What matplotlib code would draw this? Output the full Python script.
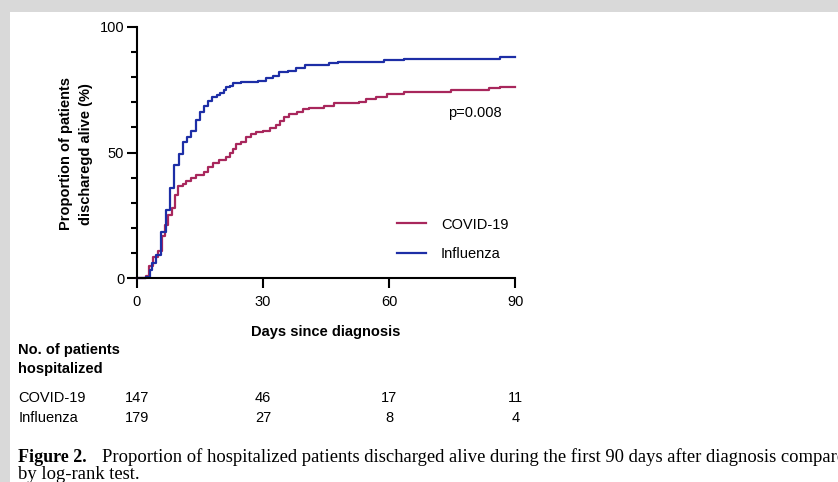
import matplotlib.pyplot as plt
from matplotlib.patches import Rectangle
from matplotlib.transforms import blended_transform_factory

# Kaplan-Meier style step data (days, % discharged alive)
covid_days = [0, 2.1, 2.9, 3.9, 5.1, 6.1, 6.7, 7.5, 8.3, 9.1, 9.9, 11.0, 11.8, 13.0, 14.2,
              15.9, 17.0, 18.2, 19.5, 21.3, 22.1, 22.9, 23.7, 24.9, 26.0, 27.2, 28.4, 30.0,
              31.6, 33.0, 34.0, 35.1, 36.3, 38.0, 39.5, 41.0, 44.6, 47.0, 52.9, 54.5, 56.8,
              59.6, 63.6, 74.6, 83.7, 86.4, 90]
covid_pct = [0, 1, 5, 8.5, 11, 17, 21, 25, 28, 33, 36.5, 37.5, 38.5, 40, 41,
             42.2, 44.4, 46, 47, 48.3, 50, 51.5, 53.4, 54.3, 56.3, 57.4, 58, 58.6,
             59.9, 61, 62.6, 64.2, 65.2, 66.2, 67.2, 67.8, 68.5, 69.6, 70.2, 71.1, 72.2,
             73.3, 74.0, 74.8, 75.5, 76.2, 76.2]

flu_days = [0, 2.1, 3.2, 3.7, 4.5, 5.8, 6.9, 7.9, 8.8, 10.1, 10.9, 12.0, 13.0, 14.0, 15.0,
            15.9, 17.0, 18.0, 19.0, 19.8, 20.7, 21.3, 22.1, 22.9, 24.9, 28.8, 30.8, 32.4,
            33.9, 35.9, 37.9, 39.9, 45.8, 47.8, 58.8, 63.6, 86.4, 90]
flu_pct = [0, 0.7, 3.3, 6, 9.3, 18.5, 27, 35.8, 45, 49.5, 54, 56, 58.5, 63, 66,
           68.5, 70.5, 72, 72.9, 73.8, 74.8, 75.9, 76.4, 77.5, 78, 78.5, 79.5, 80.4,
           81.9, 82.5, 83.5, 84.8, 85.4, 86.1, 86.8, 87.3, 88.1, 88.1]

# numbers at risk
risk_days = [0, 30, 60, 90]
covid_risk = [147, 46, 17, 11]
flu_risk = [179, 27, 8, 4]

covid_color = '#a8275c'
flu_color = '#1d2ea6'

plt.rcParams['font.family'] = ['Liberation Sans', 'DejaVu Sans']

W, H = 838, 482
fig = plt.figure(figsize=(W / 100, H / 100), dpi=100)
fig.patch.set_facecolor('#d9d9d9')
fig.add_artist(Rectangle((10 / W, 0), 1, 1 - 12 / H, transform=fig.transFigure,
                         facecolor='white', edgecolor='none', zorder=0))

ax = fig.add_axes([136.7 / W, 1 - 278.3 / H, 378.6 / W, 251.6 / H])
ax.patch.set_alpha(0)

ax.plot(covid_days, covid_pct, drawstyle='steps-post', color=covid_color, lw=1.6,
        label='COVID-19', clip_on=False)
ax.plot(flu_days, flu_pct, drawstyle='steps-post', color=flu_color, lw=1.6,
        label='Influenza', clip_on=False)

ax.set_xlim(0, 90)
ax.set_ylim(0, 100)
ax.set_xticks(risk_days)
ax.set_yticks([0, 50, 100])
ax.set_yticks(range(0, 101, 10), minor=True)
for s in ['top', 'right']:
    ax.spines[s].set_visible(False)
for s in ['left', 'bottom']:
    ax.spines[s].set_linewidth(1.5)
ax.tick_params(axis='both', which='major', length=7.5, width=1.5, labelsize=10.5)
ax.tick_params(axis='x', pad=4.5)
ax.tick_params(axis='y', pad=1.5)
ax.tick_params(axis='y', which='minor', length=4.5, width=1.5)

ax.set_xlabel('Days since diagnosis', fontsize=10.5, fontweight='bold', va='center')
ax.xaxis.set_label_coords(0.5, (278.3 - 331.7) / 251.6)
ax.set_ylabel('Proportion of patients\ndischaregd alive (%)', fontsize=10.5,
              fontweight='bold', va='center', linespacing=1.5)
ax.yaxis.set_label_coords((76 - 136.7) / 378.6, (278.3 - 154) / 251.6)

ax.text(74, 65.8, 'p=0.008', fontsize=10.5, va='center', ha='left')

ax.legend(loc='center left', bbox_to_anchor=((397 - 136.7) / 378.6, (278.3 - 239.2) / 251.6),
          frameon=False, fontsize=10.5, handlelength=2.0, handletextpad=1.0,
          labelspacing=1.05, borderpad=0, borderaxespad=0)

# number at risk table
tr = blended_transform_factory(ax.transData, fig.transFigure)
fig.text(18.3 / W, 1 - 350 / H, 'No. of patients', fontsize=10.5, fontweight='bold', va='center')
fig.text(18.3 / W, 1 - 369 / H, 'hospitalized', fontsize=10.5, fontweight='bold', va='center')
fig.text(18.3 / W, 1 - 398.3 / H, 'COVID-19', fontsize=10.5, va='center')
fig.text(18.3 / W, 1 - 417.5 / H, 'Influenza', fontsize=10.5, va='center')
for d, c, f in zip(risk_days, covid_risk, flu_risk):
    ax.text(d, 1 - 398.3 / H, str(c), transform=tr, fontsize=10.5, ha='center', va='center')
    ax.text(d, 1 - 417.5 / H, str(f), transform=tr, fontsize=10.5, ha='center', va='center')

# caption (runs off the right edge, as in the source page)
serif = ['Liberation Serif', 'DejaVu Serif']
fig.text(18.3 / W, 1 - 462 / H, 'Figure 2.', family=serif, fontsize=13, fontweight='bold',
         va='baseline')
fig.text(101.7 / W, 1 - 462 / H,
         'Proportion of hospitalized patients discharged alive during the first 90 days '
         'after diagnosis compared', family=serif, fontsize=13.4, va='baseline')
fig.text(18.3 / W, 1 - 479 / H, 'by log-rank test.', family=serif, fontsize=13.4,
         va='baseline')

fig.savefig('out.png', dpi=100, facecolor=fig.get_facecolor())
